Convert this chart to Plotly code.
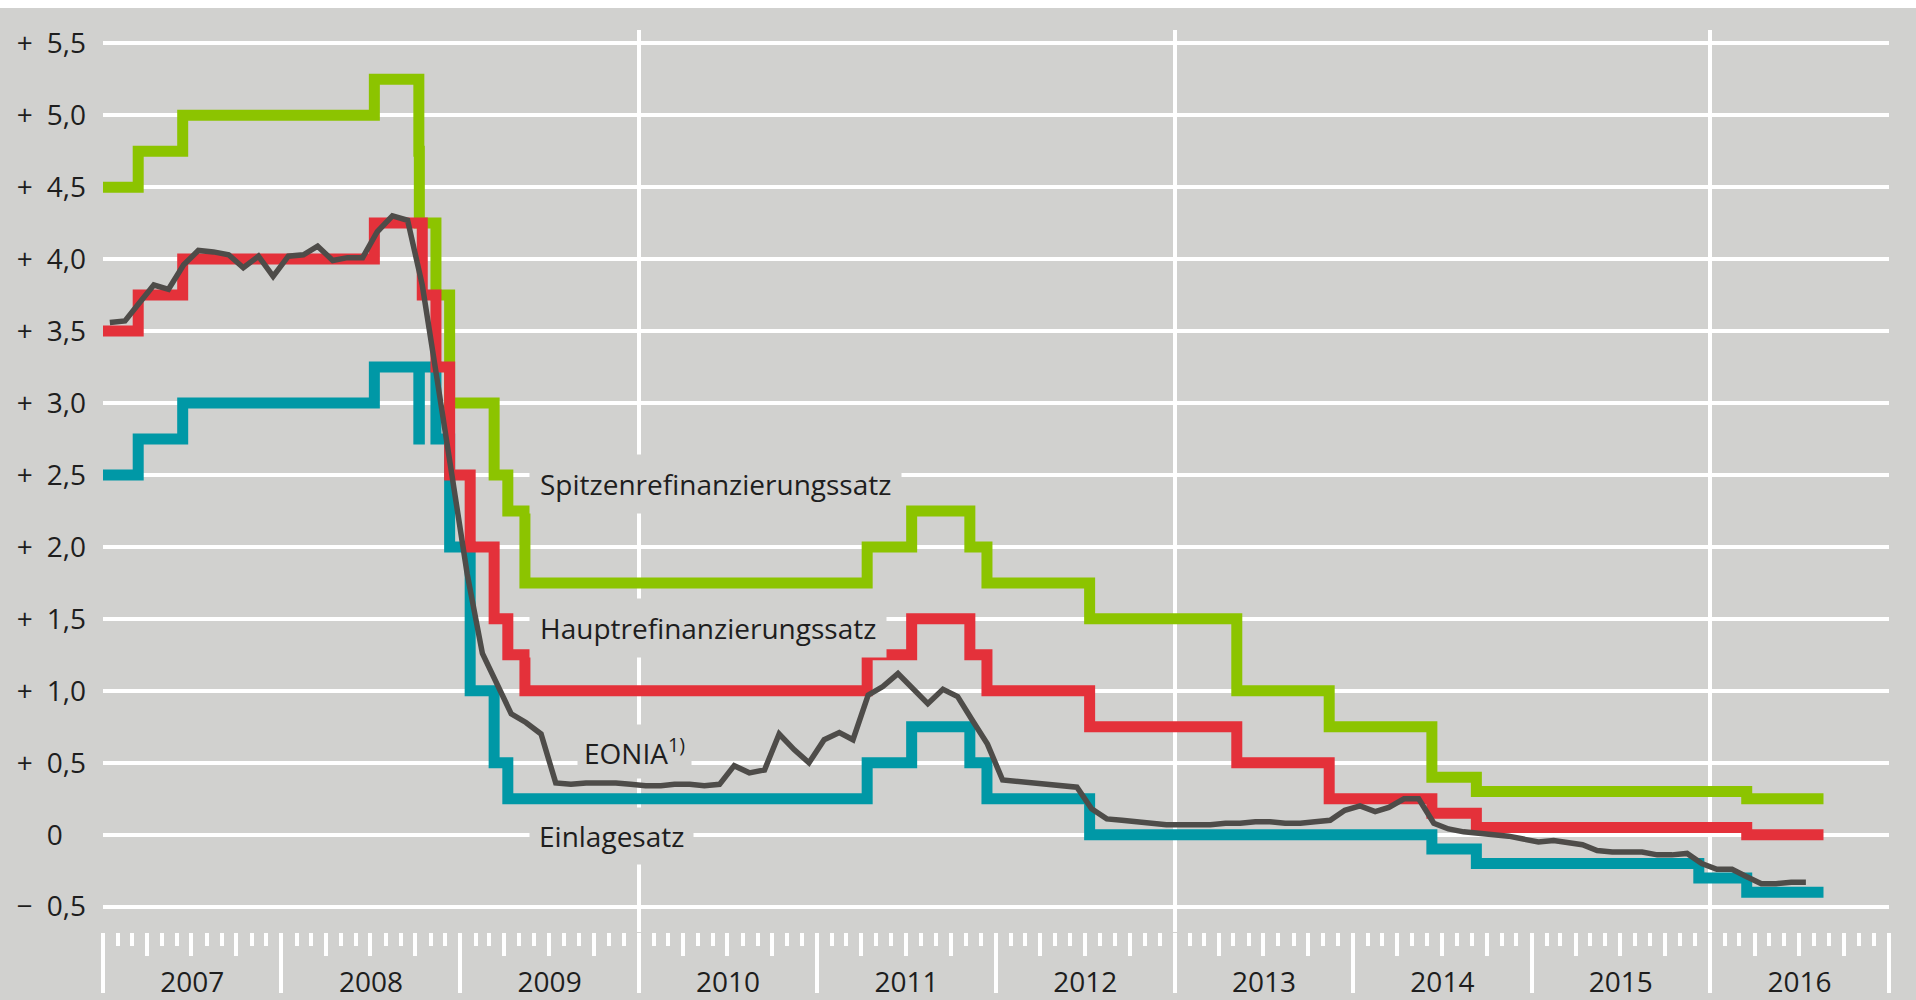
import plotly.graph_objects as go

# ---------------- data ----------------
# Spitzenrefinanzierungssatz (marginal lending facility), step changes
mlf_dates = ["2007-01-01", "2007-03-14", "2007-06-13", "2008-07-09", "2008-10-08", "2008-10-09",
             "2008-11-12", "2008-12-10", "2009-03-11", "2009-04-08", "2009-05-13", "2011-04-13",
             "2011-07-13", "2011-11-09", "2011-12-14", "2012-07-11", "2013-05-08", "2013-11-13",
             "2014-06-11", "2014-09-10", "2016-03-16", "2016-08-20"]
mlf_vals = [4.50, 4.75, 5.00, 5.25, 4.75, 4.25, 3.75, 3.00, 2.50, 2.25, 1.75, 2.00,
            2.25, 2.00, 1.75, 1.50, 1.00, 0.75, 0.40, 0.30, 0.25, 0.25]

# Hauptrefinanzierungssatz (main refinancing rate)
mro_dates = ["2007-01-01", "2007-03-14", "2007-06-13", "2008-07-09", "2008-10-15", "2008-11-12",
             "2008-12-10", "2009-01-21", "2009-03-11", "2009-04-08", "2009-05-13", "2011-04-13",
             "2011-07-13", "2011-11-09", "2011-12-14", "2012-07-11", "2013-05-08", "2013-11-13",
             "2014-06-11", "2014-09-10", "2016-03-16", "2016-08-20"]
mro_vals = [3.50, 3.75, 4.00, 4.25, 3.75, 3.25, 2.50, 2.00, 1.50, 1.25, 1.00, 1.25,
            1.50, 1.25, 1.00, 0.75, 0.50, 0.25, 0.15, 0.05, 0.00, 0.00]

# Einlagesatz (deposit facility)
dep_dates = ["2007-01-01", "2007-03-14", "2007-06-13", "2008-07-09", "2008-10-08", "2008-10-09",
             "2008-11-12", "2008-12-10", "2009-01-21", "2009-03-11", "2009-04-08", "2011-04-13",
             "2011-07-13", "2011-11-09", "2011-12-14", "2012-07-11", "2014-06-11", "2014-09-10",
             "2015-12-09", "2016-03-16", "2016-08-20"]
dep_vals = [2.50, 2.75, 3.00, 3.25, 2.75, 3.25, 2.75, 2.00, 1.00, 0.50, 0.25, 0.50,
            0.75, 0.50, 0.25, 0.00, -0.10, -0.20, -0.30, -0.40, -0.40]

# EONIA monthly averages, Jan 2007 - Jul 2016 (plotted mid-month)
eonia_months = [f"{y}-{m:02d}-15" for y in range(2007, 2017) for m in range(1, 13)][:115]
eonia_vals = [
    3.56, 3.57, 3.69, 3.82, 3.79, 3.96, 4.06, 4.05, 4.03, 3.94, 4.02, 3.88,   # 2007
    4.02, 4.03, 4.09, 3.99, 4.01, 4.01, 4.19, 4.30, 4.27, 3.82, 3.15, 2.49,   # 2008
    1.81, 1.26, 1.06, 0.84, 0.78, 0.70, 0.36, 0.35, 0.36, 0.36, 0.36, 0.35,   # 2009
    0.34, 0.34, 0.35, 0.35, 0.34, 0.35, 0.48, 0.43, 0.45, 0.70, 0.59, 0.50,   # 2010
    0.66, 0.71, 0.66, 0.97, 1.03, 1.12, 1.01, 0.91, 1.01, 0.96, 0.79, 0.63,   # 2011
    0.38, 0.37, 0.36, 0.35, 0.34, 0.33, 0.18, 0.11, 0.10, 0.09, 0.08, 0.07,   # 2012
    0.07, 0.07, 0.07, 0.08, 0.08, 0.09, 0.09, 0.08, 0.08, 0.09, 0.10, 0.17,   # 2013
    0.20, 0.16, 0.19, 0.25, 0.25, 0.08, 0.04, 0.02, 0.01, 0.00, -0.01, -0.03, # 2014
    -0.05, -0.04, -0.05, -0.07, -0.11, -0.12, -0.12, -0.12, -0.14, -0.14, -0.13, -0.20,  # 2015
    -0.24, -0.24, -0.29, -0.34, -0.34, -0.33, -0.33,                           # 2016
]

y_ticks = [-0.5, 0, 0.5, 1.0, 1.5, 2.0, 2.5, 3.0, 3.5, 4.0, 4.5, 5.0, 5.5]
SP = "\u2002"
y_ticktext = ["\u2212" + SP + "0,5", "0\u2008\u2007", "+" + SP + "0,5", "+" + SP + "1,0", "+" + SP + "1,5",
              "+" + SP + "2,0", "+" + SP + "2,5", "+" + SP + "3,0", "+" + SP + "3,5", "+" + SP + "4,0",
              "+" + SP + "4,5", "+" + SP + "5,0", "+" + SP + "5,5"]
grid_years = ["2010-01-01", "2013-01-01", "2016-01-01"]
x_range = ["2007-01-01", "2017-01-01"]

# ---------------- style ----------------
BG = "#d1d1cf"
GREEN = "#8cc400"
RED = "#e4313a"
TEAL = "#0098a6"
DARK = "#4e4c49"
TXT = "#1e1e1e"
FONT = "Open Sans"

fig = go.Figure()
fig.add_trace(go.Scatter(x=mlf_dates, y=mlf_vals, mode="lines", line=dict(color=GREEN, width=11, shape="hv"),
                         name="Spitzenrefinanzierungssatz", hoverinfo="skip"))
fig.add_trace(go.Scatter(x=dep_dates, y=dep_vals, mode="lines", line=dict(color=TEAL, width=11, shape="hv"),
                         name="Einlagesatz", hoverinfo="skip"))
fig.add_trace(go.Scatter(x=mro_dates, y=mro_vals, mode="lines", line=dict(color=RED, width=11, shape="hv"),
                         name="Hauptrefinanzierungssatz", hoverinfo="skip"))
fig.add_trace(go.Scatter(x=eonia_months, y=eonia_vals, mode="lines", line=dict(color=DARK, width=5.5),
                         name="EONIA", hoverinfo="skip"))
# carrier traces so the tick-only overlay axes are drawn
for ax in ("x2", "x3"):
    fig.add_trace(go.Scatter(x=x_range, y=[None, None], xaxis=ax, yaxis="y", mode="lines",
                             showlegend=False, hoverinfo="skip"))

lab_font = dict(family=FONT, size=28, color=TXT)
ann = [
    dict(x="2009-05-22", y=2.44, text="Spitzenrefinanzierungssatz", pad=10),
    dict(x="2009-05-22", y=1.44, text="Hauptrefinanzierungssatz", pad=10),
    dict(x="2009-08-28", y=0.58, text="EONIA<sup>1)</sup>", pad=6),
    dict(x="2009-05-22", y=-0.01, text="Einlagesatz", pad=9),
]
for a in ann:
    fig.add_annotation(x=a["x"], y=a["y"], text=a["text"], showarrow=False, xanchor="left", yanchor="middle",
                       font=lab_font, bgcolor=BG, borderpad=a["pad"], xref="x", yref="y")

# thin white strip along the top edge, as in the original
fig.add_shape(type="rect", xref="paper", yref="paper", x0=-0.1, x1=1.1, y0=1 + 22 / 902, y1=1 + 40 / 902,
              fillcolor="white", line_width=0, layer="below")

tick_font = dict(family=FONT, size=28, color=TXT)
fig.update_layout(
    width=1916, height=1000,
    margin=dict(l=103, r=27, t=30, b=68, autoexpand=False),
    paper_bgcolor=BG, plot_bgcolor=BG,
    showlegend=False,
    font=dict(family=FONT, color=TXT),
    xaxis=dict(type="date", range=x_range, tickmode="array", tickvals=grid_years,
               showgrid=True, gridcolor="white", gridwidth=4, ticks="", showticklabels=False,
               showline=False, zeroline=False, fixedrange=True, automargin=False),
    xaxis2=dict(type="date", range=x_range, overlaying="x", anchor="y", side="bottom",
                tickmode="linear", tick0="2007-01-01", dtick="M12", ticks="outside", ticklen=60,
                tickwidth=4, tickcolor="white", showgrid=False, zeroline=False, showline=False,
                ticklabelmode="period", tickformat="%Y", ticklabelstandoff=-35,
                tickfont=tick_font, fixedrange=True, automargin=False,
                minor=dict(ticks="outside", ticklen=13, tickwidth=4, tickcolor="white",
                           tick0="2007-01-01", dtick="M1", showgrid=False)),
    xaxis3=dict(type="date", range=x_range, overlaying="x", anchor="y", side="bottom",
                tickmode="linear", tick0="2007-01-01", dtick="M3", ticks="outside", ticklen=23,
                tickwidth=4, tickcolor="white", showgrid=False, zeroline=False, showline=False,
                showticklabels=False, fixedrange=True, automargin=False),
    yaxis=dict(range=[-0.676, 5.592], tickmode="array", tickvals=y_ticks, ticktext=y_ticktext,
               showgrid=True, gridcolor="white", gridwidth=4, zeroline=False, ticks="",
               ticklabelstandoff=16, tickfont=tick_font, fixedrange=True, automargin=False),
)

fig.write_html("out.html", post_script="document.body.style.margin='0px';",
               config={"displayModeBar": False})
